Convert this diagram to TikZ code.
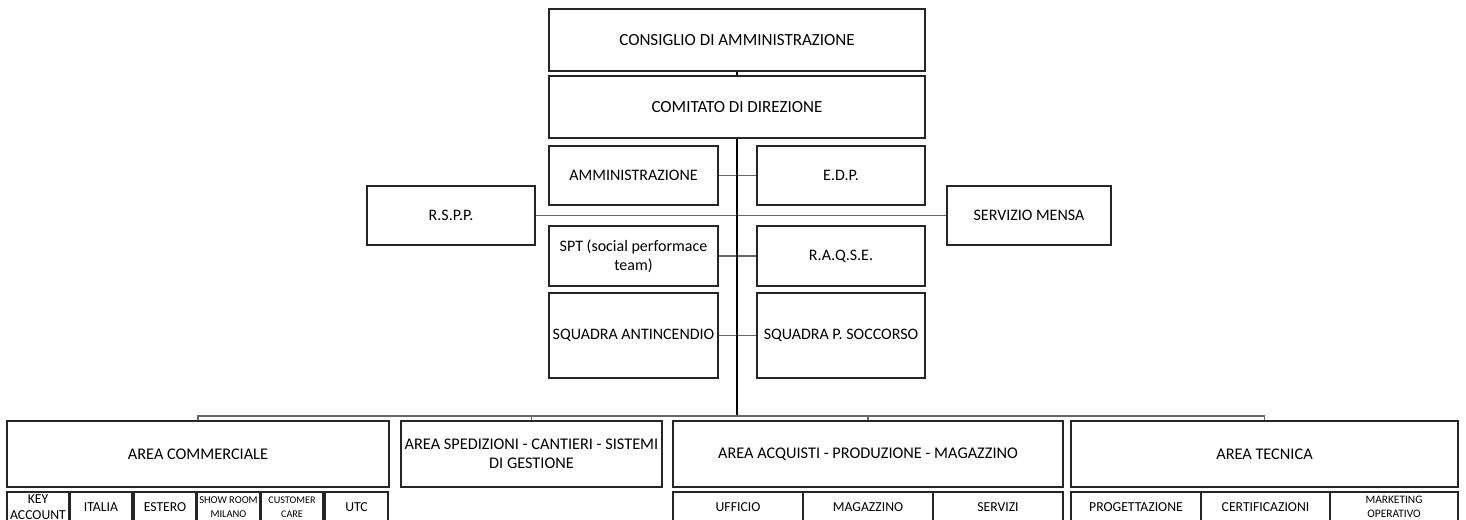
\documentclass[tikz,border=0pt]{standalone}
\usepackage{fontspec}
\setmainfont{Carlito}
\begin{document}
\begin{tikzpicture}[x=1pt,y=-1pt,
  box/.style={draw=black!85, line width=1.2pt, rectangle, inner sep=0pt, align=center,
    font=\fontsize{16}{19}\selectfont},
  subbox/.style={box, minimum height=30pt, font=\fontsize{13.7}{16.5}\selectfont},
  conn/.style={draw=black!60, line width=1.8pt},
  trunk/.style={draw=black, line width=2pt}]
\useasboundingbox (0,0) rectangle (1466,519);
% top
\node[box, minimum width=376pt, minimum height=62pt, font=\fontsize{17}{20}\selectfont] (cda) at (737,40) {CONSIGLIO DI AMMINISTRAZIONE};
\node[box, minimum width=376pt, minimum height=62pt, font=\fontsize{17}{20}\selectfont] (cdd) at (737,107) {COMITATO DI DIREZIONE};
% staff
\node[box, minimum width=169pt, minimum height=59pt] (amm) at (633.5,175.5) {AMMINISTRAZIONE};
\node[box, minimum width=168pt, minimum height=59pt] (edp) at (841,175.5) {E.D.P.};
\node[box, minimum width=168pt, minimum height=59pt] (rspp) at (451,215.5) {R.S.P.P.};
\node[box, minimum width=164pt, minimum height=59pt] (mensa) at (1029,215.5) {SERVIZIO MENSA};
\node[box, minimum width=169pt, minimum height=60pt] (spt) at (633.5,256) {SPT (social performace\\team)};
\node[box, minimum width=168pt, minimum height=60pt] (raqse) at (841,256) {R.A.Q.S.E.};
\node[box, minimum width=169pt, minimum height=85pt] (sa) at (633.5,335.5) {SQUADRA ANTINCENDIO};
\node[box, minimum width=168pt, minimum height=85pt] (sps) at (841,335.5) {SQUADRA P. SOCCORSO};
% areas
\node[box, minimum width=382pt, minimum height=66pt, font=\fontsize{16.3}{19}\selectfont] (ac) at (198,454) {AREA COMMERCIALE};
\node[box, minimum width=261pt, minimum height=66pt, font=\fontsize{16.3}{19}\selectfont] (as) at (531.5,454) {AREA SPEDIZIONI - CANTIERI - SISTEMI\\DI GESTIONE};
\node[box, minimum width=390pt, minimum height=66pt, font=\fontsize{16.3}{19}\selectfont] (aa) at (868,454) {AREA ACQUISTI - PRODUZIONE - MAGAZZINO};
\node[box, minimum width=387pt, minimum height=66pt, font=\fontsize{16.3}{19}\selectfont] (at) at (1264.5,454) {AREA TECNICA};
% sub boxes commerciale
\node[subbox, minimum width=62pt] (key) at (38,507) {KEY\\ACCOUNT};
\node[subbox, minimum width=62pt] (ita) at (101,507) {ITALIA};
\node[subbox, minimum width=62pt] (est) at (165,507) {ESTERO};
\node[subbox, minimum width=63pt, font=\fontsize{10.5}{14.5}\selectfont] (show) at (228.5,507) {SHOW ROOM\\MILANO};
\node[subbox, minimum width=62pt, font=\fontsize{10.2}{14.5}\selectfont] (cust) at (292,507) {CUSTOMER\\CARE};
\node[subbox, minimum width=63pt] (utc) at (356.5,507) {UTC};
% sub boxes acquisti
\node[subbox, minimum width=130pt] (uff) at (738,507) {UFFICIO};
\node[subbox, minimum width=130pt] (mag) at (868,507) {MAGAZZINO};
\node[subbox, minimum width=130pt] (serv) at (998,507) {SERVIZI};
% sub boxes tecnica
\node[subbox, minimum width=130pt] (prog) at (1136,507) {PROGETTAZIONE};
\node[subbox, minimum width=129pt] (cert) at (1265.5,507) {CERTIFICAZIONI};
\node[subbox, minimum width=128pt, font=\fontsize{11.4}{14.5}\selectfont] (mkt) at (1394,507) {MARKETING\\OPERATIVO};
% connectors
\coordinate (bus) at (737,416);
\draw[conn] (rspp.east) -- (mensa.west);
\draw[conn] (amm.east) -- (edp.west);
\draw[conn] (spt.east) -- (raqse.west);
\draw[conn] (sa.east) -- (sps.west);
\draw[trunk] (cda.south) -- (cdd.north);
\draw[trunk] (cdd.south) -- (bus);
\draw[conn] (bus) -| (ac.north);
\draw[conn] (bus) -| (as.north);
\draw[conn] (bus) -| (aa.north);
\draw[conn] (bus) -| (at.north);
\end{tikzpicture}
\end{document}
